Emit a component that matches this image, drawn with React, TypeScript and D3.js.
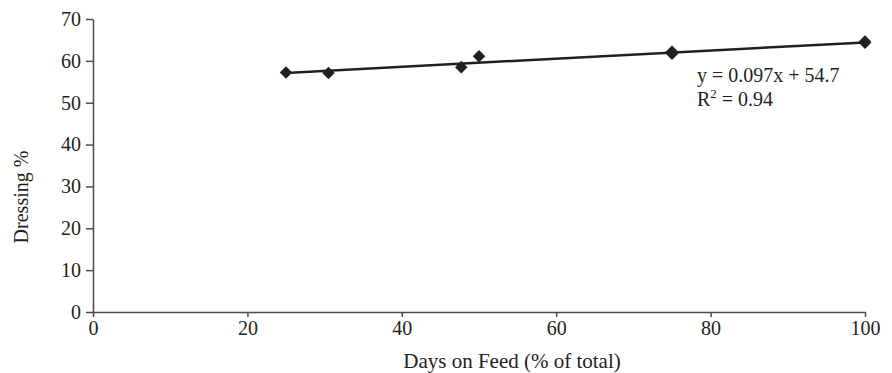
import React, { useEffect, useRef } from 'react';
import * as d3 from 'd3';

const daysOnFeed = [25, 30.5, 47.7, 50, 75, 75, 100, 100];
const dressingPct = [57.2, 57.1, 58.5, 61.1, 61.7, 62.2, 64.3, 64.6];
const xTicks = [0, 20, 40, 60, 80, 100];
const yTicks = [0, 10, 20, 30, 40, 50, 60, 70];
const slope = 0.097;
const intercept = 54.7;
const equationLines = ['y = 0.097x + 54.7', 'R2 = 0.94'];

const App = () => {
  const ref = useRef<SVGSVGElement>(null);

  useEffect(() => {
    const svg = d3.select(ref.current);
    svg.selectAll('*').remove();

    const font = "'Liberation Serif', 'Times New Roman', serif";
    const ink = '#231f20';
    const axisColor = '#4a4a4a';

    const x = d3.scaleLinear().domain([0, 100]).range([93, 865]);
    const y = d3.scaleLinear().domain([0, 70]).range([312, 19]);

    // axes
    const xAxis = svg.append('g')
      .attr('transform', `translate(0,${y(0)})`)
      .call(d3.axisBottom(x).tickValues(xTicks).tickSize(5).tickPadding(4).tickSizeOuter(0));
    const yAxis = svg.append('g')
      .attr('transform', `translate(${x(0)},0)`)
      .call(d3.axisLeft(y).tickValues(yTicks).tickSize(7).tickPadding(5).tickSizeOuter(0));

    [xAxis, yAxis].forEach(g => {
      g.select('.domain').attr('stroke', axisColor).attr('stroke-width', 1.5);
      g.selectAll('.tick line').attr('stroke', axisColor).attr('stroke-width', 1.5);
      g.selectAll('.tick text')
        .attr('fill', ink)
        .attr('font-family', font)
        .attr('font-size', 20);
    });

    // trend line
    const xs = [d3.min(daysOnFeed) as number, d3.max(daysOnFeed) as number];
    svg.append('line')
      .attr('x1', x(xs[0]))
      .attr('y1', y(slope * xs[0] + intercept))
      .attr('x2', x(xs[1]))
      .attr('y2', y(slope * xs[1] + intercept))
      .attr('stroke', ink)
      .attr('stroke-width', 2.5);

    // diamonds
    const diamond = d3.symbol().type(d3.symbolDiamond2).size(100);
    svg.append('g')
      .selectAll('path')
      .data(daysOnFeed.map((d, i) => [d, dressingPct[i]]))
      .enter().append('path')
      .attr('d', diamond)
      .attr('transform', d => `translate(${x(d[0])},${y(d[1])})`)
      .attr('fill', ink);

    // equation
    const eq = svg.append('g')
      .attr('font-family', font)
      .attr('font-size', 20)
      .attr('fill', ink);
    eq.append('text').attr('x', 697).attr('y', 82).text(equationLines[0]);
    const r2 = eq.append('text').attr('x', 697).attr('y', 106);
    r2.append('tspan').text('R');
    r2.append('tspan').attr('font-size', 13).attr('dy', -8).text('2');
    r2.append('tspan').attr('dy', 8).text(equationLines[1].slice(2));

    // axis titles
    svg.append('text')
      .attr('x', 512)
      .attr('y', 368)
      .attr('text-anchor', 'middle')
      .attr('font-family', font)
      .attr('font-size', 21)
      .attr('fill', ink)
      .text('Days on Feed (% of total)');

    svg.append('text')
      .attr('transform', `translate(28,197) rotate(-90)`)
      .attr('text-anchor', 'middle')
      .attr('font-family', font)
      .attr('font-size', 20)
      .attr('fill', ink)
      .text('Dressing %');
  }, []);

  return (
    <svg ref={ref} width={892} height={373}
      style={{ position: 'absolute', left: 0, top: 0, background: '#fff' }} />
  );
};

export default App;
